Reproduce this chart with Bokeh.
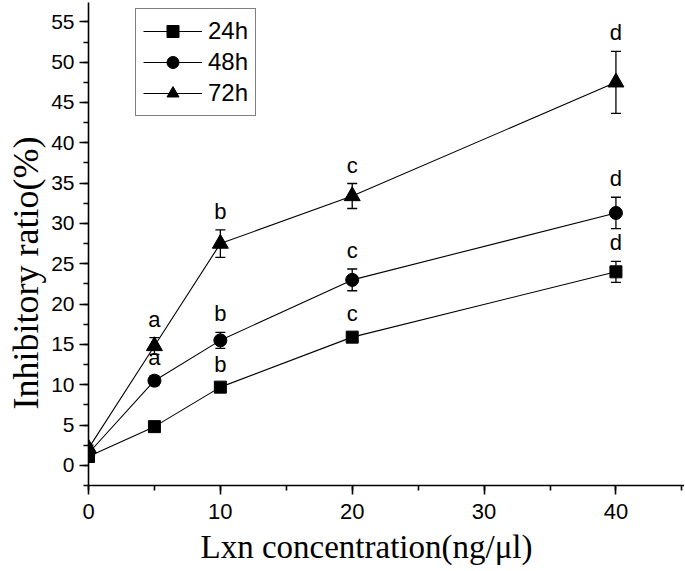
from bokeh.plotting import figure
from bokeh.models import (ColumnDataSource, Whisker, TeeHead, Range1d, Title,
                          SingleIntervalTicker, Legend, LegendItem)
from bokeh.core.properties import value
from bokeh.embed import file_html
from bokeh.resources import INLINE

# ---- data ----
conc = [0, 5, 10, 20, 40]
series_names = ["24h", "48h", "72h"]
r24 = [1.1, 4.8, 9.7, 15.9, 24.0]
e24 = [0.3, 0.3, 0.5, 0.6, 1.3]
l24 = ["", "", "b", "c", "d"]
r48 = [1.5, 10.5, 15.5, 23.0, 31.3]
e48 = [0.3, 0.6, 1.0, 1.35, 1.95]
l48 = ["", "a", "b", "c", "d"]
r72 = [2.1, 14.8, 27.5, 33.4, 47.5]
e72 = [0.4, 1.05, 1.7, 1.55, 3.85]
l72 = ["", "a", "b", "c", "d"]
x_ticks_interval = 10
y_ticks_interval = 5
x_title = "Lxn concentration(ng/μl)"
y_title = "Inhibitory ratio(%)"

W, H = 684, 570
p = figure(width=W, height=H, output_backend="svg", toolbar_location=None,
           x_range=Range1d(0, 45.2), y_range=Range1d(-2.5, 57.4),
           min_border_left=88, min_border_bottom=85, min_border_top=2,
           min_border_right=0)
p.outline_line_color = None
p.grid.visible = False
p.background_fill_color = "white"
p.border_fill_color = "white"

p.xaxis.ticker = SingleIntervalTicker(interval=x_ticks_interval, num_minor_ticks=2)
p.yaxis.ticker = SingleIntervalTicker(interval=y_ticks_interval, num_minor_ticks=2)
for ax in (p.xaxis, p.yaxis):
    ax.axis_line_width = 1.6
    ax.axis_line_color = "black"
    ax.major_tick_line_width = 1.6
    ax.minor_tick_line_width = 1.6
    ax.major_tick_line_color = "black"
    ax.minor_tick_line_color = "black"
    ax.major_tick_in = 0
    ax.major_tick_out = 9
    ax.minor_tick_in = 0
    ax.minor_tick_out = 5
    ax.major_label_text_font = "Liberation Sans"
    ax.major_label_text_font_size = "21px"
    ax.major_label_text_color = "black"
p.yaxis.major_label_standoff = 5
p.xaxis.major_label_standoff = 9
p.xaxis.major_label_text_font_size = "22px"

markers = ["square", "circle", "triangle"]
msizes = [12, 13, 16]
data = [(r24, e24, l24), (r48, e48, l48), (r72, e72, l72)]
items = []
for name, mk, ms, (vals, errs, labs) in zip(series_names, markers, msizes, data):
    src = ColumnDataSource(dict(
        x=conc, y=vals,
        upper=[v + e for v, e in zip(vals, errs)],
        lower=[v - e for v, e in zip(vals, errs)],
        lab=labs))
    w = Whisker(base="x", upper="upper", lower="lower", source=src,
                line_color="black", line_width=1.3,
                upper_head=TeeHead(size=10, line_color="black", line_width=1.3),
                lower_head=TeeHead(size=10, line_color="black", line_width=1.3))
    p.add_layout(w)
    ln = p.line("x", "y", source=src, line_color="black", line_width=1.1)
    sc = p.scatter("x", "y", source=src, marker=mk, size=ms,
                   fill_color="black", line_color="black")
    p.text("x", "upper", text="lab", source=src, text_align="center",
           text_baseline="bottom", y_offset=-6,
           text_font=value("Liberation Sans"), text_font_size="22px",
           text_color="black")
    items.append(LegendItem(label=name, renderers=[ln, sc]))

legend = Legend(items=items, location=(47, 369), orientation="vertical",
                label_text_font="Liberation Sans", label_text_font_size="24px",
                label_text_color="black", glyph_width=59, glyph_height=30,
                label_height=30, spacing=1, padding=7, margin=0,
                label_standoff=6, border_line_color="black",
                border_line_width=1.5, background_fill_alpha=1)
p.add_layout(legend, "center")

p.add_layout(Title(text=y_title, align="left", offset=76, standoff=6,
                   text_font="Liberation Serif", text_font_size="36px",
                   text_font_style="normal", text_color="black"), "left")
p.add_layout(Title(text=x_title, align="left", offset=112, standoff=11,
                   text_font="Liberation Serif", text_font_size="33px",
                   text_font_style="normal", text_color="black"), "below")

open("out.html", "w").write(file_html(p, INLINE))
